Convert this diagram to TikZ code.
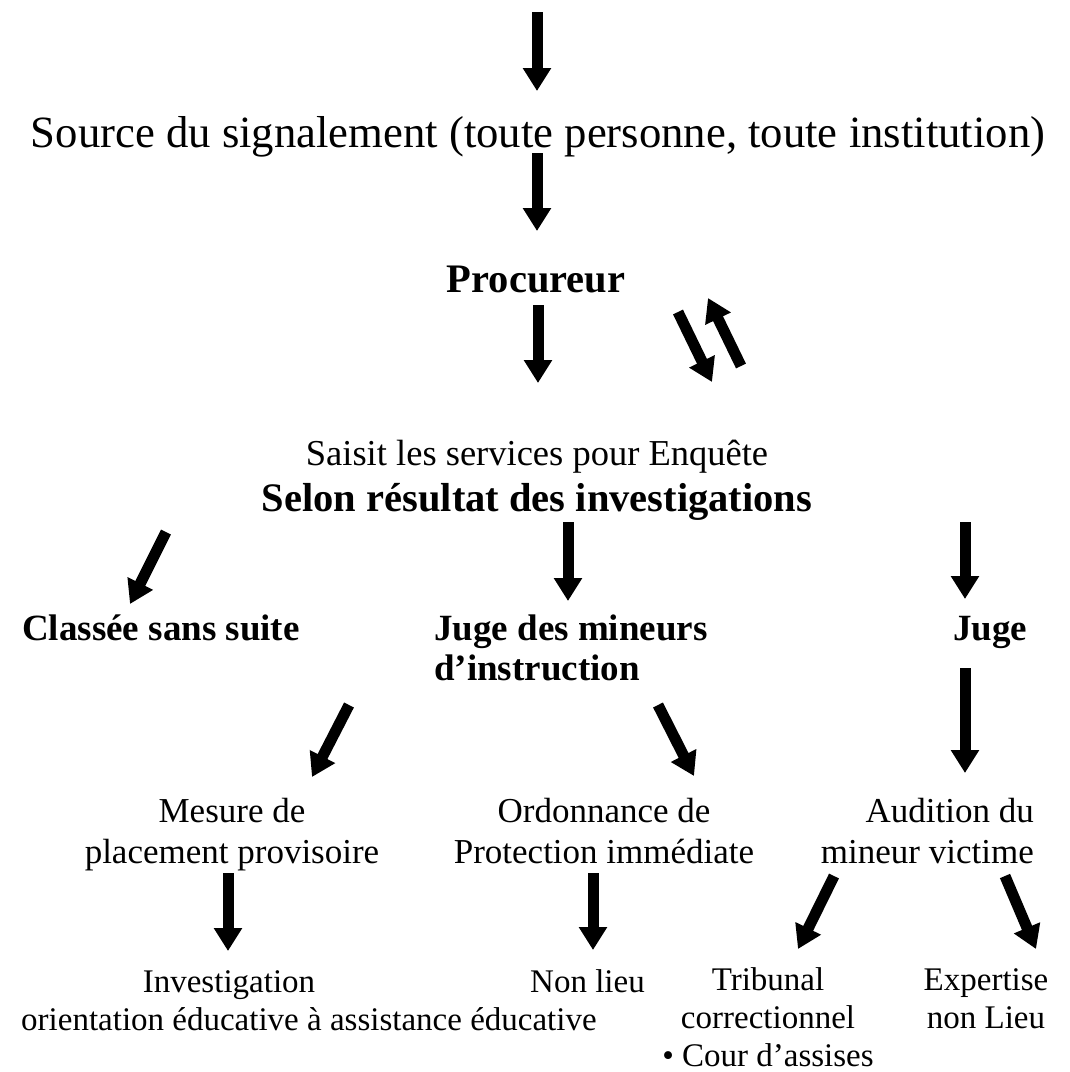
\documentclass[tikz,border=0pt]{standalone}
\usepackage{fontspec}
\setmainfont{Liberation Serif}
\usetikzlibrary{arrows.meta}
\tikzset{
  arr/.style={line width=11pt,-{Triangle[length=23pt,width=27pt]}},
  txt/.style={inner sep=0pt, anchor=base},
  big/.style={txt, font=\fontsize{44.7}{50}\selectfont},
  topbold/.style={txt, font=\fontsize{40.5}{46}\selectfont\bfseries},
  saisit/.style={txt, font=\fontsize{36.5}{42}\selectfont},
  midbold/.style={txt, font=\fontsize{37}{42}\selectfont\bfseries},
  mid/.style={txt, font=\fontsize{35}{40}\selectfont},
  low/.style={txt, font=\fontsize{33}{38}\selectfont}
}
\begin{document}
\begin{tikzpicture}[x=1pt,y=-1pt]
\path[use as bounding box, fill=white] (0,0) rectangle (1070,1072);
% texts
\node[big] (src) at (538,147) {Source du signalement (toute personne, toute institution)};
\node[topbold] (proc) at (536,292) {Procureur};
\node[saisit] (saisit) at (537,465) {Saisit les services pour Enquête};
\node[topbold] (selon) at (537,511) {Selon résultat des investigations};
\node[midbold] (classee) at (161,640) {Classée sans suite};
\node[midbold, anchor=base west] (jmin1) at (434,640) {Juge des mineurs};
\node[midbold, anchor=base west] (jmin2) at (434,680) {d’instruction};
\node[midbold] (juge) at (990,640) {Juge};
\node[mid] (mes1) at (232,822) {Mesure de};
\node[mid] (mes2) at (232,863) {placement provisoire};
\node[mid] (ord1) at (604,822) {Ordonnance de};
\node[mid] (ord2) at (604,863) {Protection immédiate};
\node[mid, anchor=base east] (aud1) at (1034,822) {Audition du};
\node[mid, anchor=base east] (aud2) at (1034,863) {mineur victime};
\node[low] (inv1) at (229,992) {Investigation};
\node[low, anchor=base west] (inv2) at (21,1030) {orientation éducative à assistance éducative};
\node[low, anchor=base east] (nonlieu) at (645,992) {Non lieu};
\node[low] (trib1) at (768,990) {Tribunal};
\node[low] (trib2) at (768,1028) {correctionnel};
\node[low] (trib3) at (768,1066) {\textbullet\ Cour d’assises};
\node[low] (exp1) at (986,990) {Expertise};
\node[low] (exp2) at (986,1028) {non Lieu};
% arrows
\coordinate (a1s) at (537,12);   \coordinate (a1e) at (537,91);
\coordinate (a2s) at (537,153);  \coordinate (a2e) at (537,231);
\coordinate (a3s) at (538,305);  \coordinate (a3e) at (538,383);
\coordinate (a4s) at (678,312);  \coordinate (a4e) at (712,382);
\coordinate (a5s) at (741,366);  \coordinate (a5e) at (708,298);
\coordinate (a6s) at (166,532);  \coordinate (a6e) at (130,604);
\coordinate (a7s) at (568,522);  \coordinate (a7e) at (568,601);
\coordinate (a8s) at (965,522);  \coordinate (a8e) at (965,599);
\coordinate (a9s) at (349,705);  \coordinate (a9e) at (312,777);
\coordinate (a10s) at (658,705); \coordinate (a10e) at (694,776);
\coordinate (a11s) at (965,668); \coordinate (a11e) at (965,773);
\coordinate (a12s) at (228,873); \coordinate (a12e) at (228,951);
\coordinate (a13s) at (593,873); \coordinate (a13e) at (593,950);
\coordinate (a14s) at (834,876); \coordinate (a14e) at (798,949);
\coordinate (a15s) at (1005,876);\coordinate (a15e) at (1036,949);
\foreach \i in {1,...,15}{\draw[arr] (a\i s) -- (a\i e);}
\end{tikzpicture}
\end{document}
